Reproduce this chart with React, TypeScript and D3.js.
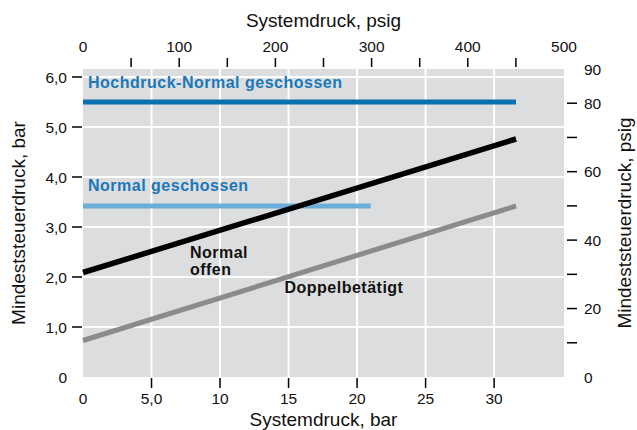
import * as d3 from "d3";

// x values in bar, y values in bar
const hochdruckX = [0, 31.6];
const hochdruckY = [5.5, 5.5];
const normalGeschX = [0, 21.0];
const normalGeschY = [3.42, 3.42];
const normalOffenX = [0, 31.6];
const normalOffenY = [2.09, 4.76];
const doppelX = [0, 31.6];
const doppelY = [0.73, 3.42];

const barTicks = [5, 10, 15, 20, 25, 30];
const barTickLabels = ["0", "5,0", "10", "15", "20", "25", "30"];
const psigTopTicks = [50, 100, 150, 200, 250, 300, 350, 400, 450];
const psigTopLabels = [0, 100, 200, 300, 400, 500];
const leftTicks = [1, 2, 3, 4, 5, 6];
const leftLabels = ["0", "1,0", "2,0", "3,0", "4,0", "5,0", "6,0"];
const rightTicks = [10, 20, 30, 40, 50, 60, 70, 80];
const rightLabels = [0, 20, 40, 60, 80, 90];

const W = 637;
const H = 430;
const plot = { left: 83, right: 564, top: 69, bottom: 377 };

const FONT = "'Liberation Sans', Arial, Helvetica, sans-serif";
const BG = "#dcdddf";
const BLUE = "#0a70b0";
const LIGHT_BLUE = "#6badd8";
const LABEL_BLUE = "#1a78b8";
const GRAY = "#8b8b8b";

export default function App() {
  const x = d3.scaleLinear().domain([0, 35.1]).range([plot.left, plot.right]);
  const xTop = d3.scaleLinear().domain([0, 500]).range([plot.left, plot.right]);
  const y = d3.scaleLinear().domain([0, 6]).range([plot.bottom, 77]);
  const yRight = d3.scaleLinear().domain([0, 90]).range([plot.bottom, plot.top]);

  const line = (xs: number[], ys: number[]) =>
    d3
      .line<number>()
      .x((d) => x(xs[d]))
      .y((d) => y(ys[d]))(d3.range(xs.length)) || "";

  const series = [
    { xs: normalGeschX, ys: normalGeschY, color: LIGHT_BLUE, w: 5 },
    { xs: doppelX, ys: doppelY, color: GRAY, w: 5 },
    { xs: normalOffenX, ys: normalOffenY, color: "#000", w: 5.5 },
    { xs: hochdruckX, ys: hochdruckY, color: BLUE, w: 5 },
  ];

  const tickStyle = { stroke: "#000", strokeWidth: 1.5 };
  const labelStyle = { fontFamily: FONT, fontSize: 15.5, fill: "#111" };
  const titleStyle = { fontFamily: FONT, fontSize: 19, fill: "#111" };
  const annot = {
    fontFamily: FONT,
    fontSize: 16,
    fontWeight: 700,
    letterSpacing: 0.5,
  };

  return (
    <svg
      width={W}
      height={H}
      style={{ position: "absolute", left: 0, top: 0, background: "#fff" }}
    >
      <rect
        x={plot.left}
        y={plot.top}
        width={plot.right - plot.left}
        height={plot.bottom - plot.top}
        fill={BG}
      />
      {/* grid */}
      {barTicks.map((t) => (
        <line
          key={"gx" + t}
          x1={x(t)}
          x2={x(t)}
          y1={plot.top}
          y2={plot.bottom}
          stroke="#fff"
          strokeWidth={2}
        />
      ))}
      {leftTicks.map((t) => (
        <line
          key={"gy" + t}
          x1={plot.left}
          x2={plot.right}
          y1={y(t)}
          y2={y(t)}
          stroke="#fff"
          strokeWidth={2}
        />
      ))}

      {/* series */}
      {series.map((s, i) => (
        <path
          key={i}
          d={line(s.xs, s.ys)}
          fill="none"
          stroke={s.color}
          strokeWidth={s.w}
        />
      ))}

      {/* annotations */}
      <text x={x(0) + 5} y={y(5.78)} fill={LABEL_BLUE} style={annot}>
        Hochdruck-Normal geschossen
      </text>
      <text x={x(0) + 5} y={y(3.72)} fill={LABEL_BLUE} style={annot}>
        Normal geschossen
      </text>
      <text x={x(7.8)} y={y(2.38)} fill="#111" style={annot}>
        Normal
      </text>
      <text x={x(7.8)} y={y(2.04)} fill="#111" style={annot}>
        offen
      </text>
      <text x={x(14.7)} y={y(1.68)} fill="#111" style={annot}>
        Doppelbetätigt
      </text>

      {/* bottom axis */}
      {barTicks.map((t) => (
        <line
          key={"bt" + t}
          x1={x(t)}
          x2={x(t)}
          y1={plot.bottom + 1}
          y2={plot.bottom + 11}
          style={tickStyle}
        />
      ))}
      {[0, ...barTicks].map((t, i) => (
        <text
          key={"bl" + t}
          x={x(t)}
          y={404}
          textAnchor="middle"
          style={labelStyle}
        >
          {barTickLabels[i]}
        </text>
      ))}
      <text x={(plot.left + plot.right) / 2} y={426} textAnchor="middle" style={titleStyle}>
        Systemdruck, bar
      </text>

      {/* top axis */}
      {psigTopTicks.map((t) => (
        <line
          key={"tt" + t}
          x1={xTop(t)}
          x2={xTop(t)}
          y1={58}
          y2={67}
          style={tickStyle}
        />
      ))}
      {psigTopLabels.map((t) => (
        <text key={"tl" + t} x={xTop(t)} y={52} textAnchor="middle" style={labelStyle}>
          {t}
        </text>
      ))}
      <text x={(plot.left + plot.right) / 2} y={27} textAnchor="middle" style={titleStyle}>
        Systemdruck, psig
      </text>

      {/* left axis */}
      {leftTicks.map((t) => (
        <line
          key={"lt" + t}
          x1={72}
          x2={82}
          y1={y(t)}
          y2={y(t)}
          style={tickStyle}
        />
      ))}
      {[0, ...leftTicks].map((t, i) => (
        <text
          key={"ll" + t}
          x={67}
          y={y(t) + 5.5}
          textAnchor="end"
          style={labelStyle}
        >
          {leftLabels[i]}
        </text>
      ))}
      <text
        transform={`translate(25,${(plot.top + plot.bottom) / 2}) rotate(-90)`}
        textAnchor="middle"
        style={titleStyle}
      >
        Mindeststeuerdruck, bar
      </text>

      {/* right axis */}
      {rightTicks.map((t) => (
        <line
          key={"rt" + t}
          x1={567}
          x2={577}
          y1={yRight(t)}
          y2={yRight(t)}
          style={tickStyle}
        />
      ))}
      {rightLabels.map((t) => (
        <text
          key={"rl" + t}
          x={584}
          y={yRight(t) + 5.5}
          textAnchor="start"
          style={labelStyle}
        >
          {t}
        </text>
      ))}
      <text
        transform={`translate(631,${(plot.top + plot.bottom) / 2}) rotate(-90)`}
        textAnchor="middle"
        style={titleStyle}
      >
        Mindeststeuerdruck, psig
      </text>
    </svg>
  );
}
